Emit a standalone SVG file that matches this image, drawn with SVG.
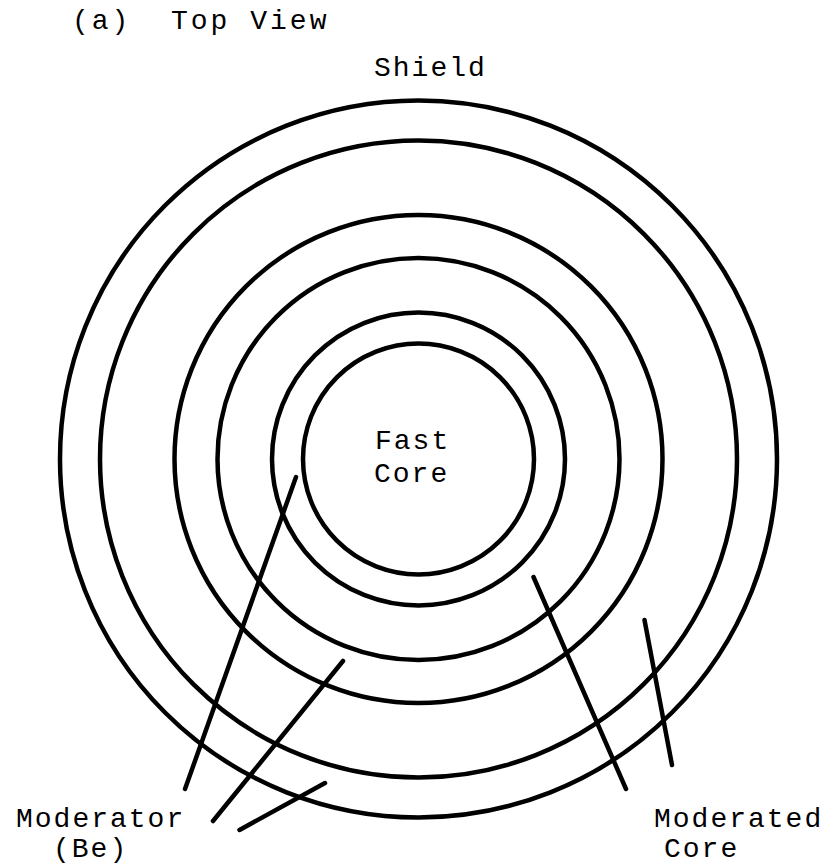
<svg xmlns="http://www.w3.org/2000/svg" width="828" height="867" viewBox="0 0 828 867">
<style>
.ring{fill:none;stroke:#000;stroke-width:4.5}
.lead{stroke:#000;stroke-width:4.5;stroke-linecap:round;fill:none}
.t{font-family:"Liberation Mono","Courier New",monospace;font-size:28px;fill:#000;letter-spacing:2px}
.title{letter-spacing:3px}
</style>
<rect width="828" height="867" fill="#fff"/>
<g id="title"><text class="t title" x="72" y="29" xml:space="preserve">(a)  Top View</text></g>
<g id="shield">
<circle class="ring" cx="418.5" cy="459" r="358.5"/>
<circle class="ring" cx="418.5" cy="459" r="318.5"/>
<text class="t" x="374" y="76">Shield</text>
</g>
<g id="moderated-core">
<circle class="ring" cx="418.5" cy="459" r="244"/>
<circle class="ring" cx="418.5" cy="459" r="201"/>
<text class="t" x="654" y="827">Moderated</text>
<text class="t" x="664" y="857">Core</text>
</g>
<g id="moderator">
<circle class="ring" cx="418.5" cy="459" r="146.5"/>
<text class="t" x="16" y="827">Moderator</text>
<text class="t" x="53" y="857">(Be)</text>
</g>
<g id="fast-core">
<circle class="ring" cx="418.5" cy="459" r="115.5"/>
<text class="t" x="375" y="449">Fast</text>
<text class="t" x="374" y="482">Core</text>
</g>
<g id="connectors">
<line class="lead" x1="296" y1="477" x2="185" y2="789"/>
<line class="lead" x1="343" y1="661" x2="213" y2="821"/>
<line class="lead" x1="325" y1="783" x2="239.5" y2="830"/>
<line class="lead" x1="533.5" y1="577" x2="626" y2="789"/>
<line class="lead" x1="644.5" y1="620" x2="672" y2="765"/>
</g>
</svg>
